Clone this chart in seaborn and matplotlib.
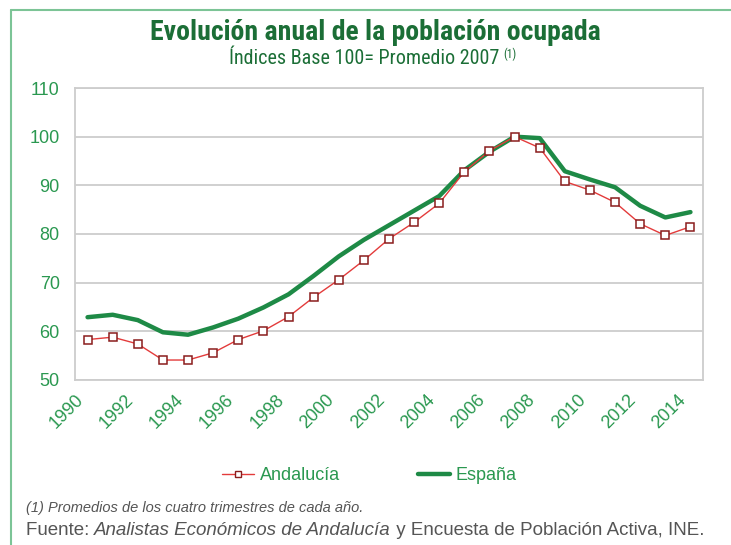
import matplotlib
matplotlib.use("Agg")
import matplotlib.pyplot as plt
import matplotlib.transforms as mtransforms
import numpy as np
import pandas as pd
import seaborn as sns
from matplotlib import font_manager
from matplotlib.lines import Line2D

# Annual values, index base 100 = average 2007
years = list(range(1990, 2015))
andalucia = [58.3, 58.8, 57.4, 54.1, 54.1, 55.6, 58.3, 60.1, 63.0, 67.0,
             70.6, 74.6, 79.0, 82.4, 86.3, 92.8, 97.1, 100.0, 97.7, 90.8,
             89.0, 86.5, 82.1, 79.7, 81.5]
espana = [62.9, 63.4, 62.3, 59.8, 59.3, 60.8, 62.6, 64.9, 67.6, 71.4,
          75.4, 78.8, 81.8, 84.8, 87.8, 93.1, 96.9, 100.0, 99.7, 92.9,
          91.2, 89.6, 85.8, 83.4, 84.5]
tick_years = [str(y) for y in years[::2]]

GREEN = "#1e8a46"
TICK_GREEN = "#2a9850"
TITLE_GREEN = "#1b6e36"
RED = "#e33b3b"
DARK_RED = "#8a1c1c"
BORDER = "#7cc496"

# pick a narrow family for the title if one is around
available = {f.name for f in font_manager.fontManager.ttflist}
narrow = "Liberation Sans"
for cand in ["Liberation Sans Narrow", "DejaVu Sans Condensed", "Roboto Condensed",
             "Open Sans Condensed"]:
    if cand in available:
        narrow = cand
        break
narrow_is_real = narrow != "Liberation Sans"

df = pd.DataFrame({"Año": years, "Andalucía": andalucia, "España": espana})
df["pos"] = np.arange(len(df))

sns.set_style("white")
plt.rcParams["font.family"] = ["Liberation Sans", "DejaVu Sans"]

fig = plt.figure(figsize=(7.31, 5.45), dpi=100)
ax = fig.add_axes([0.1026, 0.3028, 0.8591, 0.5357])

sns.lineplot(data=df, x="pos", y="España", ax=ax, color=GREEN, linewidth=3.2,
             solid_joinstyle="round", solid_capstyle="round", zorder=2)
sns.lineplot(data=df, x="pos", y="Andalucía", ax=ax, color=RED, linewidth=1.0,
             marker="s", markersize=5.5, markerfacecolor="white",
             markeredgecolor=DARK_RED, markeredgewidth=1.1, zorder=3)

ax.set_xlim(-0.5, len(years) - 0.5)
ax.set_ylim(50, 110)
ax.set_yticks(range(50, 111, 10))
ax.set_xticks(df["pos"][::2])
ax.tick_params(axis="x", length=0, pad=8)
ax.tick_params(axis="y", length=0, pad=11, labelcolor=TICK_GREEN, labelsize=13)
ax.set_xticklabels(tick_years, rotation=45, ha="right", rotation_mode="anchor",
                   color=TICK_GREEN, fontsize=13)
# nudge the slanted year labels left, like the original
shift = mtransforms.ScaledTranslation(-0.13, 0.0, fig.dpi_scale_trans)
for tk in ax.xaxis.get_major_ticks():
    tk.label1.set_transform(tk.label1.get_transform() + shift)
ax.set_xlabel("")
ax.set_ylabel("")
ax.grid(axis="y", color="#c4c4c4", linewidth=1.1)
ax.set_axisbelow(True)
for s in ax.spines.values():
    s.set_visible(True)
    s.set_color("#cdcdcd")
    s.set_linewidth(1.3)

handles = [
    Line2D([], [], color=RED, linewidth=1.0, marker="s", markersize=4.5,
           markerfacecolor="white", markeredgecolor=DARK_RED),
    Line2D([], [], color=GREEN, linewidth=3.2),
]
leg = fig.legend(handles, ["Andalucía", "España"], loc="center",
                 bbox_to_anchor=(0.505, 0.127), ncol=2, frameon=False,
                 fontsize=13, handlelength=1.8, handletextpad=0.3,
                 columnspacing=4.3)
for t in leg.get_texts():
    t.set_color(TICK_GREEN)

# Titles
title_size = 20 if narrow_is_real else 16
sub_size = 14.5 if narrow_is_real else 12
fig.text(0.513, 0.927, "Evolución anual de la población ocupada", ha="center",
         va="baseline", fontsize=title_size, fontweight="bold", color=TITLE_GREEN,
         family=[narrow, "DejaVu Sans"])
sub = fig.text(0.498, 0.883, "Índices Base 100= Promedio 2007", ha="center",
               va="baseline", fontsize=sub_size, color=TITLE_GREEN,
               family=[narrow, "DejaVu Sans"])
fig.canvas.draw()
renderer = fig.canvas.get_renderer()

# superscript after subtitle
bb = sub.get_window_extent(renderer=renderer)
fig.text((bb.x1 + 4) / fig.bbox.width, 0.893, "(1)", ha="left", va="baseline",
         fontsize=8.5, color=TITLE_GREEN, family=[narrow, "DejaVu Sans"])

# Footnotes
fig.text(0.035, 0.067, "(1) Promedios de los cuatro trimestres de cada año.",
         ha="left", va="center", fontsize=10.5, style="italic", color="#555555")
parts = [("Fuente: ", "normal"), ("Analistas Económicos de Andalucía", "italic"),
         (" y Encuesta de Población Activa, INE.", "normal")]
x = 0.035
for txt, st in parts:
    t = fig.text(x, 0.027, txt, ha="left", va="center", fontsize=13.5,
                 style=st, color="#555555")
    ext = t.get_window_extent(renderer=renderer)
    x = ext.x1 / fig.bbox.width

# Light green frame on top and left
fig.add_artist(Line2D([0.015, 1.0], [0.981, 0.981], transform=fig.transFigure,
                      color=BORDER, linewidth=1.5))
fig.add_artist(Line2D([0.015, 0.015], [0.0, 0.981], transform=fig.transFigure,
                      color=BORDER, linewidth=1.5))

fig.savefig("out.png", dpi=100)
